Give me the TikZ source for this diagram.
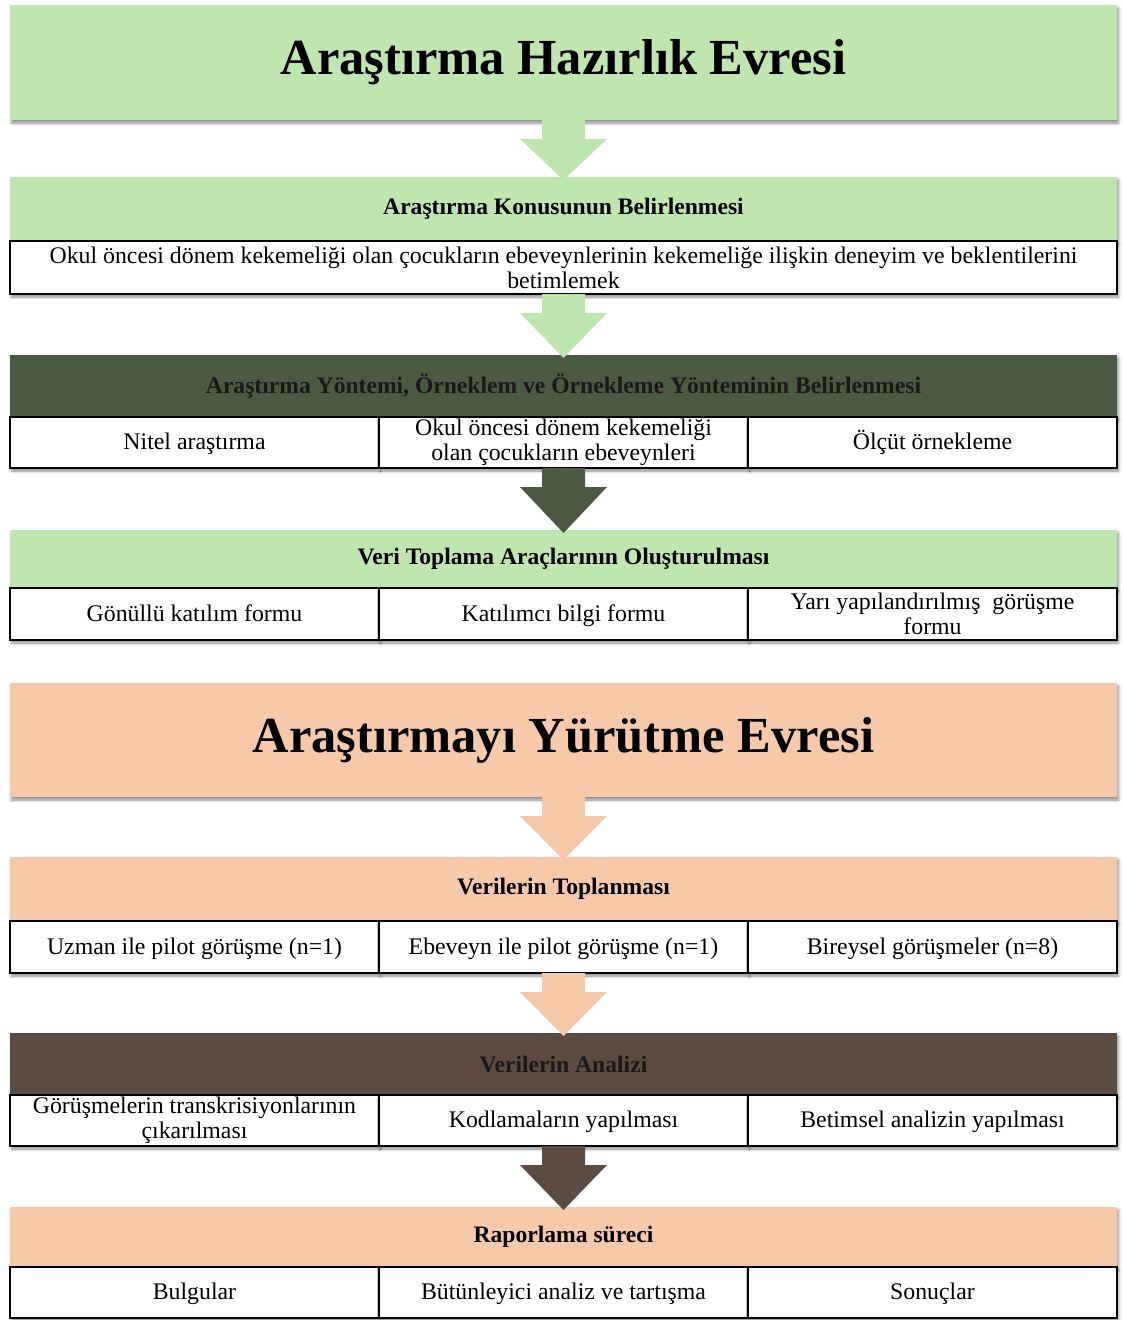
\documentclass[tikz,border=0pt]{standalone}
\usepackage{fontspec}
\setmainfont{Liberation Serif}
\usetikzlibrary{shadows.blur}
\definecolor{lgreen}{HTML}{BFE6AF}
\definecolor{dgreen}{HTML}{4B5943}
\definecolor{peach}{HTML}{F6C9AA}
\definecolor{brownh}{HTML}{5C4B40}
\tikzset{
  shd/.style={blur shadow={shadow xshift=1.5pt, shadow yshift=-3pt, shadow blur radius=3pt, shadow opacity=45}},
  titlebox/.style={shd, anchor=north west, inner sep=0pt, outer sep=0pt, minimum width=1107pt,
    font=\fontsize{50.5}{56}\selectfont\bfseries},
  headbox/.style={shd, anchor=north west, inner sep=0pt, outer sep=0pt, minimum width=1107pt,
    font=\fontsize{23.6}{26}\selectfont\bfseries},
  cellbox/.style={shd, draw=black, line width=1.4pt, fill=white, anchor=north west, inner sep=0pt, outer sep=0pt,
    minimum width=369pt, align=center, font=\fontsize{23.8}{25}\selectfont},
  onecell/.style={cellbox, text height=17pt, text depth=3pt},
  widecell/.style={cellbox, minimum width=1107pt}
}
\newcommand\fatarrow[3]{%
  \fill[#1] ([xshift=-21.5pt]#2) -- ([xshift=-21.5pt,yshift=-19pt]#2) -- ([xshift=-43.5pt,yshift=-19pt]#2)
   -- ([yshift=-3pt]#3) -- ([xshift=43.5pt,yshift=-19pt]#2) -- ([xshift=21.5pt,yshift=-19pt]#2)
   -- ([xshift=21.5pt]#2) -- cycle;}
\begin{document}
\begin{tikzpicture}[x=1pt,y=-1pt]
\useasboundingbox (0,0) rectangle (1124,1320);
% --- Phase 1
\node[titlebox, fill=lgreen, minimum height=115pt] (t1) at (10,5) {Araştırma Hazırlık Evresi};

\node[headbox, fill=lgreen, minimum height=64pt] (h2) at (10,177) {Araştırma Konusunun Belirlenmesi};
\node[widecell, minimum height=53pt] (r2) at (10,241) {Okul öncesi dönem kekemeliği olan çocukların ebeveynlerinin kekemeliğe ilişkin deneyim ve beklentilerini\\betimlemek};

\node[headbox, fill=dgreen, minimum height=62pt, text=black!90] (h3) at (10,355) {Araştırma Yöntemi, Örneklem ve Örnekleme Yönteminin Belirlenmesi};
\node[onecell, minimum height=51pt] (c31) at (10,417) {Nitel araştırma};
\node[cellbox, minimum height=51pt] (c32) at (379,417) {Okul öncesi dönem kekemeliği\\olan çocukların ebeveynleri};
\node[onecell, minimum height=51pt] (c33) at (748,417) {Ölçüt örnekleme};

\node[headbox, fill=lgreen, minimum height=58pt] (h4) at (10,530) {Veri Toplama Araçlarının Oluşturulması};
\node[onecell, minimum height=52pt] (c41) at (10,588) {Gönüllü katılım formu};
\node[onecell, minimum height=52pt] (c42) at (379,588) {Katılımcı bilgi formu};
\node[cellbox, minimum height=52pt] (c43) at (748,588) {Yarı yapılandırılmış~ görüşme\\formu};

% --- Phase 2
\node[titlebox, fill=peach, minimum height=114pt] (t2) at (10,683) {Araştırmayı Yürütme Evresi};

\node[headbox, fill=peach, minimum height=64pt] (h6) at (10,857) {Verilerin Toplanması};
\node[onecell, minimum height=52pt] (c61) at (10,921) {Uzman ile pilot görüşme (n=1)};
\node[onecell, minimum height=52pt] (c62) at (379,921) {Ebeveyn ile pilot görüşme (n=1)};
\node[onecell, minimum height=52pt] (c63) at (748,921) {Bireysel görüşmeler (n=8)};

\node[headbox, fill=brownh, minimum height=62pt, text=black!90] (h7) at (10,1033) {Verilerin Analizi};
\node[cellbox, minimum height=51pt] (c71) at (10,1095) {Görüşmelerin transkrisiyonlarının\\çıkarılması};
\node[onecell, minimum height=51pt] (c72) at (379,1095) {Kodlamaların yapılması};
\node[onecell, minimum height=51pt] (c73) at (748,1095) {Betimsel analizin yapılması};

\node[headbox, fill=peach, minimum height=60pt] (h8) at (10,1207) {Raporlama süreci};
\node[onecell, minimum height=51pt] (c81) at (10,1267) {Bulgular};
\node[onecell, minimum height=51pt] (c82) at (379,1267) {Bütünleyici analiz ve tartışma};
\node[onecell, minimum height=51pt] (c83) at (748,1267) {Sonuçlar};

% --- arrows
\fatarrow{lgreen}{t1.south}{h2.north}
\fatarrow{lgreen}{r2.south}{h3.north}
\fatarrow{dgreen}{c32.south}{h4.north}
\fatarrow{peach}{t2.south}{h6.north}
\fatarrow{peach}{c62.south}{h7.north}
\fatarrow{brownh}{c72.south}{h8.north}
\end{tikzpicture}
\end{document}
